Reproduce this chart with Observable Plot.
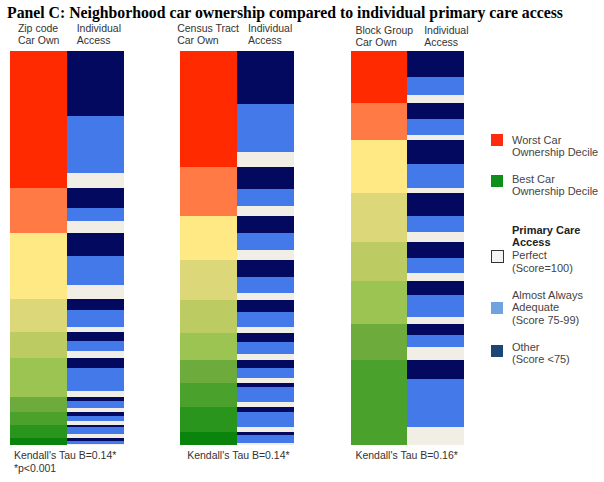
<!DOCTYPE html>
<html><head><meta charset="utf-8">
<script src="https://cdn.jsdelivr.net/npm/d3@7"></script>
<script src="https://cdn.jsdelivr.net/npm/@observablehq/plot@0.6"></script>
<style>
body{margin:0;background:#fff;width:604px;height:482px;position:relative;overflow:hidden;font-family:"Liberation Sans",Arial,sans-serif;}
#title{position:absolute;left:7px;top:0;line-height:22px;padding-top:2px;font-family:"Liberation Serif","Times New Roman",serif;font-weight:bold;font-size:17px;white-space:nowrap;transform-origin:0 0;color:#000;z-index:2}
#chart{position:absolute;left:0;top:0}
.sw{position:absolute;left:491px;width:12px;height:12px}
.lt{position:absolute;left:512px;font-size:11px;line-height:12.8px;color:#444;white-space:nowrap}
</style>
</head><body>
<div id="chart"></div>
<div id="title">Panel C: Neighborhood car ownership compared to individual primary care access</div>
<div id="legend"></div>
<script>
// ---- data (relative sizes) ----
const deciles = ["D1","D2","D3","D4","D5","D6","D7","D8","D9","D10"];
const accessCats = ["Other (Score <75)","Almost Always Adequate (Score 75-99)","Perfect (Score=100)"];

// Zip code level: per car-ownership decile, individuals by access category
const zipOther   = [65, 20, 23, 11,  9, 10, 4, 4, 2, 3];
const zipAlmost  = [57, 13, 29, 17, 10, 23, 7, 5, 7, 3];
const zipPerfect = [15, 12, 14,  5,  7,  6, 4, 4, 4, 1];

// Census tract level
const tractOther   = [53, 22, 17, 17, 12,  9,  8,  4,  5, 3];
const tractAlmost  = [48, 17, 17, 16, 15, 12, 10, 15, 15, 8];
const tractPerfect = [15, 10, 10,  7,  6,  6,  5,  5,  5, 2];

// Block group level (8 groups shown)
const bgOther   = [26, 16, 24, 23, 16, 14, 11, 19];
const bgAlmost  = [18, 16, 24, 16, 15, 22, 12, 48];
const bgPerfect = [ 8,  5,  5, 10,  8,  7, 13, 18];

const columns = ["zip-car","zip-acc","gap1","tract-car","tract-acc","gap2","bg-car","bg-acc"];
const headerCols = ["zip-car","zip-acc","tract-car","tract-acc","bg-car","bg-acc"];
const headerText = ["Zip code\nCar Own","Individual\nAccess","Census Tract\nCar Own","Individual\nAccess","Block Group\nCar Own","Individual\nAccess"];
const statCols = ["zip-car","tract-car","bg-car"];
const statText = ["Kendall's Tau B=0.14*\n*p<0.001","Kendall's Tau B=0.14*","Kendall's Tau B=0.16*"];

// ---- styles ----
const decileColors = ["#ff2a00","#ff7a45","#ffe985","#dcd87a","#bccc62","#9cc452","#6cab3c","#4aa12c","#2a951c","#0a840c"];
const accessColors = ["#03095f","#4479e9","#f0eee5"];
const headerDx = [-21,-19,-32,-18,-24,-12];
const headerDy = [-8,-8,-8,-8,-6,-6];
const statDx = [-25,-22,-24];

// ---- build table ----
const panels = [
  {key:"zip", other:zipOther, almost:zipAlmost, perfect:zipPerfect},
  {key:"tract", other:tractOther, almost:tractAlmost, perfect:tractPerfect},
  {key:"bg", other:bgOther, almost:bgAlmost, perfect:bgPerfect}
];
const rows = [];
for (const p of panels) {
  p.other.forEach((o, i) => {
    const a = p.almost[i], f = p.perfect[i];
    rows.push({col: p.key + "-car", cat: deciles[i], value: o + a + f});
    rows.push({col: p.key + "-acc", cat: accessCats[0], value: o});
    rows.push({col: p.key + "-acc", cat: accessCats[1], value: a});
    rows.push({col: p.key + "-acc", cat: accessCats[2], value: f});
  });
}

const chart = Plot.plot({
  width: 604, height: 482,
  marginLeft: 10, marginRight: 140, marginTop: 51, marginBottom: 37,
  x: {type: "band", domain: columns, padding: 0, round: false, axis: null},
  y: {domain: [0, 1], reverse: true, axis: null},
  color: {type: "ordinal", domain: [...deciles, ...accessCats], range: [...decileColors, ...accessColors]},
  style: {fontFamily: "'Liberation Sans', Arial, sans-serif", background: "transparent"},
  marks: [
    Plot.barY(rows, Plot.stackY({x: "col", y: "value", fill: "cat", offset: "normalize", order: null, shapeRendering: "crispEdges"})),
    ...headerCols.map((c, i) => Plot.text([headerText[i]], {
      x: () => c, text: d => d, frameAnchor: "top", textAnchor: "start", lineAnchor: "bottom",
      lineHeight: 1.1, fontSize: 10.5, fill: "#333", dx: headerDx[i], dy: headerDy[i]
    })),
    ...statCols.map((c, i) => Plot.text([statText[i]], {
      x: () => c, text: d => d, frameAnchor: "bottom", textAnchor: "start", lineAnchor: "top",
      lineHeight: 1.2, fontSize: 10.5, fill: "#333", dx: statDx[i], dy: 4.5
    }))
  ]
});
document.getElementById("chart").appendChild(chart);

// ---- legend ----
const legendSwatches = [
  {color: "#ff2b10", top: 134},
  {color: "#0e8f1a", top: 175},
  {color: "#f4f4f4", top: 250, border: true},
  {color: "#6ea3df", top: 302},
  {color: "#1e4577", top: 345}
];
const legendTexts = [
  {html: "Worst Car<br>Ownership Decile", top: 133.5},
  {html: "Best Car<br>Ownership Decile", top: 172.5},
  {html: "<b style='color:#222'>Primary Care<br>Access</b><br>Perfect<br>(Score=100)", top: 223.5},
  {html: "Almost Always<br>Adequate<br>(Score 75-99)", top: 288.5},
  {html: "Other<br>(Score &lt;75)", top: 340.5}
];
const lg = document.getElementById("legend");
for (const s of legendSwatches) {
  const d = document.createElement("div");
  d.className = "sw";
  d.style.top = s.top + "px";
  d.style.background = s.color;
  if (s.border) { d.style.border = "1px solid #333"; d.style.width = "11px"; d.style.height = "11px"; }
  lg.appendChild(d);
}
for (const t of legendTexts) {
  const d = document.createElement("div");
  d.className = "lt";
  d.style.top = t.top + "px";
  d.innerHTML = t.html;
  lg.appendChild(d);
}

// fit title width to the reference
const tt = document.getElementById("title");
const w = tt.getBoundingClientRect().width;
tt.style.transform = `scaleX(${556 / w})`;
</script>
</body></html>
